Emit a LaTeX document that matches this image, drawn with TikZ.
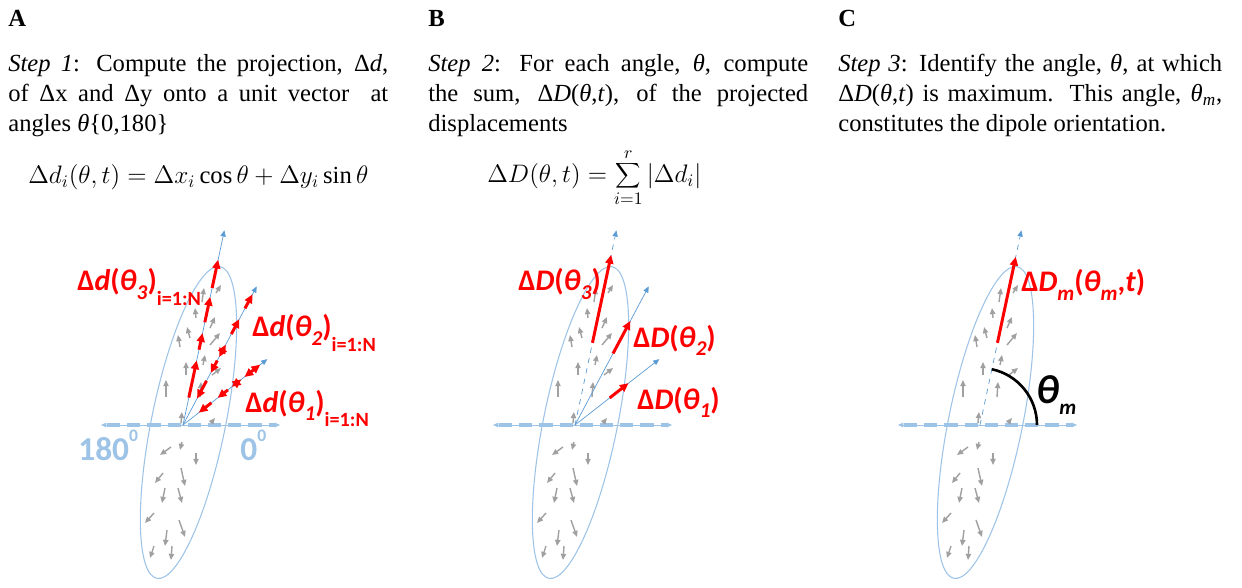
\documentclass[tikz,border=0pt]{standalone}
\usepackage{fontspec}
\setmainfont{Liberation Serif}
\newfontfamily\lblfont{Carlito}
\usetikzlibrary{arrows.meta}
\definecolor{axisblue}{HTML}{9DC3E6}
\definecolor{rayblue}{HTML}{5B9BD5}
\definecolor{fieldgray}{HTML}{A0A0A0}
\newcommand\lsub[1]{\raisebox{-0.28em}{\fontsize{12}{12}\selectfont #1}}
\newcommand\isub[1]{\raisebox{-0.5em}{\fontsize{11.5}{12}\selectfont #1}}
\newcommand\degsup{\raisebox{0.55em}{\fontsize{10}{10}\selectfont 0}}

\begin{document}
\begin{tikzpicture}[x=0.02cm,y=-0.02cm,>={Triangle[length=5pt,width=4.5pt]},
 txt/.style={anchor=north west,inner sep=0,text width=7.6cm,align=justify,font=\fontsize{14}{17}\selectfont},
 ttl/.style={anchor=west,inner sep=0,font=\fontsize{14}{17}\selectfont\bfseries},
 eq/.style={anchor=west,inner sep=0,font=\fontsize{14}{17}\selectfont},
 lbl/.style={anchor=base west,inner sep=0,text=red,font=\lblfont\fontsize{17}{20}\selectfont\bfseries},
 deg/.style={anchor=base west,inner sep=0,text=axisblue,font=\lblfont\fontsize{19}{20}\selectfont\bfseries},
 ray/.style={rayblue,line width=0.4pt,-{Triangle[length=3.5pt,width=3pt]}},
 proj/.style={red,line width=1.7pt,->},
 fld/.style={fieldgray,line width=0.8pt,-{Triangle[length=3.5pt,width=3pt]}}]
\useasboundingbox (0,0) rectangle (1242,588);

\node[ttl] (ta) at (8,18) {A};
\node[ttl] (tb) at (428,18) {B};
\node[ttl] (tc) at (838,18) {C};
\node[txt] (sa) at (8,54) {\textit{Step 1}: Compute the projection, Δ\textit{d},\linebreak of Δx and Δy onto a unit vector\ \ at\linebreak angles \textit{θ}\{0,180\}};
\node[txt] (sb) at (428,54) {\textit{Step 2}: For each angle, \textit{θ}, compute\linebreak the sum, Δ\textit{D}(\textit{θ},\textit{t}), of the projected\linebreak displacements};
\node[txt,text width=7.68cm] (sc) at (838,54) {\textit{Step 3}: Identify the angle, \textit{θ}, at which\linebreak Δ\textit{D}(\textit{θ},\textit{t}) is maximum. This angle, \textit{θ}\textsubscript{\textit{m}},\linebreak constitutes the dipole orientation.};
\node[eq] (ea) at (28,177) {$\Delta d_i(\theta,t)=\Delta x_i\cos\theta+\Delta y_i\sin\theta$};
\node[eq] (eb) at (487,178) {$\displaystyle\Delta D(\theta,t)=\sum_{i=1}^{r}|\Delta d_i|$};

% dipole, axis and displacement field, same in every panel
\foreach \ox/\p in {183/a,575/b,980/c}{
 \coordinate (o\p) at (\ox,425);
 \begin{scope}[shift={(o\p)},y=0.02cm]
  \draw[axisblue,line width=0.6pt,rotate around={78.5:(5.5,2.5)}] (5.5,2.5) ellipse (159 and 37);
  \draw[axisblue,line width=0.4pt,{Triangle[length=3pt,width=2.6pt]}-{Triangle[length=3pt,width=2.6pt]}] (-82,0) -- (97,0);
  \draw[axisblue,line width=2.2pt,dash pattern=on 7.5pt off 4pt] (-76,0) -- (92,0);
  \foreach \tx/\ty/\hx/\hy in {19/123/21/137,33/132/38/140,13/107/12/117,27/97/32/108,7/87/4/98,-3/78/-5/90,27/80/37/92,3/50/3/63,20/60/22/70,-17/28/-17/45,17/28/18/43,29/50/38/57,-2/2/-1/13,28/2/32/7,
    -12/-22/-23/-30,-1/-17/-3/-25,13/-28/13/-40,-20/-48/-28/-58,-2/-43/2/-61,-18/-63/-21/-78,-5/-63/-1/-78,-29/-88/-38/-98,-4/-95/2/-112,-16/-105/-18/-121,-29/-121/-33/-133,-11/-121/-12/-135}
   \draw[fld] (\tx,\ty) -- (\hx,\hy);
 \end{scope}
}

% A: projections
\begin{scope}[shift={(oa)},y=0.02cm]
 \draw[ray] (0,0) -- (78:199);
 \draw[ray] (0,0) -- (62:157);
 \draw[ray] (0,0) -- (38:107);
 \foreach \a/\s/\e in {78/28/66,78/77/94,78/105/131,78/140/169,62/50/30,62/73/59,62/103/120,62/132/148,38/36/20,38/57/44}
  \draw[proj] (\a:\s) -- (\a:\e);
 \foreach \a/\s/\e in {62/77/91,38/62/74,38/78/98}
  \draw[proj,<->] (\a:\s) -- (\a:\e);
\end{scope}
\node[lbl] (la3) at (77,291) {Δ\textit{d}(\textit{θ}\lsub{\textit{3}})\isub{i=1:N}};
\node[lbl] (la2) at (252,337) {Δ\textit{d}(\textit{θ}\lsub{\textit{2}})\isub{i=1:N}};
\node[lbl] (la1) at (245,412) {Δ\textit{d}(\textit{θ}\lsub{\textit{1}})\isub{i=1:N}};
\node[deg] (d180) at (78,460) {180\degsup};
\node[deg] (d0) at (240,460) {0\degsup};

% B: sums
\begin{scope}[shift={(ob)},y=0.02cm]
 \draw[ray,dashed] (0,0) -- (78:199);
 \draw[ray] (0,0) -- (62:157);
 \draw[ray] (0,0) -- (38:107);
 \draw[proj] (78:84) -- (78:174);
 \draw[proj] (62:81) -- (62:118);
 \draw[proj] (38:44) -- (38:68);
\end{scope}
\node[lbl] (lb3) at (518,291) {Δ\textit{D}(\textit{θ}\lsub{\textit{3}})};
\node[lbl] (lb2) at (633,347) {Δ\textit{D}(\textit{θ}\lsub{\textit{2}})};
\node[lbl] (lb1) at (637,409) {Δ\textit{D}(\textit{θ}\lsub{\textit{1}})};

% C: maximum
\begin{scope}[shift={(oc)},y=0.02cm]
 \draw[ray,dashed] (0,0) -- (78:199);
 \draw[proj] (78:84) -- (78:172);
 \draw[line width=1.5pt] (57,0) arc[start angle=0,end angle=78,radius=57];
\end{scope}
\node[lbl] (lc) at (1021,292) {Δ\textit{D}\lsub{\textit{m}}(\textit{θ}\lsub{\textit{m}},\textit{t})};
\node[anchor=base west,inner sep=0,font=\lblfont\fontsize{23}{24}\selectfont\bfseries\itshape] (lm) at (1036,403) {θ\lsub{m}};
\end{tikzpicture}
\end{document}
